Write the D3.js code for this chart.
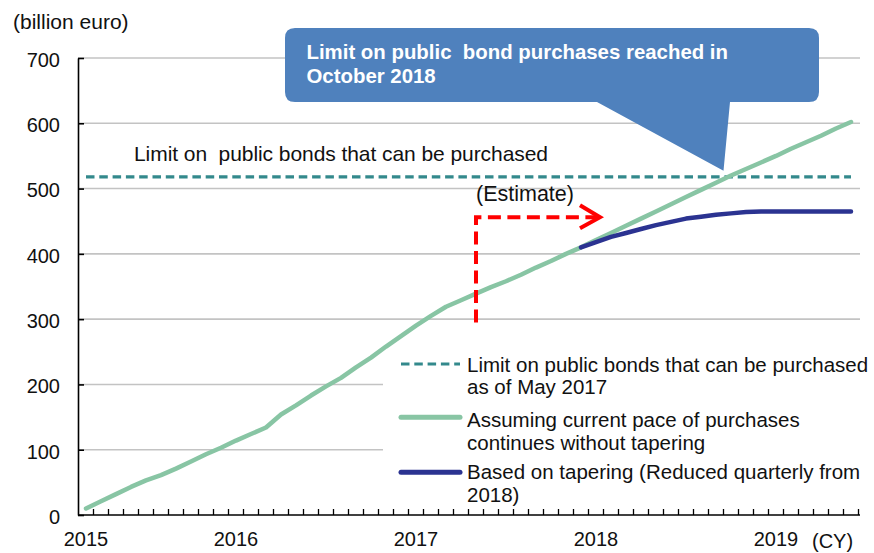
<!DOCTYPE html>
<html>
<head>
<meta charset="utf-8">
<script src="https://cdn.jsdelivr.net/npm/d3@7"></script>
<style>
  body { margin: 0; background: #fff; }
  svg text { font-family: "Liberation Sans", Arial, Helvetica, sans-serif; fill: #111; }
</style>
</head>
<body>
<svg id="chart" width="874" height="553"></svg>
<script>
// Monthly categories, March 2015 to June 2019
const months = [
  "2015-03","2015-04","2015-05","2015-06","2015-07","2015-08","2015-09","2015-10","2015-11","2015-12",
  "2016-01","2016-02","2016-03","2016-04","2016-05","2016-06","2016-07","2016-08","2016-09","2016-10","2016-11","2016-12",
  "2017-01","2017-02","2017-03","2017-04","2017-05","2017-06","2017-07","2017-08","2017-09","2017-10","2017-11","2017-12",
  "2018-01","2018-02","2018-03","2018-04","2018-05","2018-06","2018-07","2018-08","2018-09","2018-10","2018-11","2018-12",
  "2019-01","2019-02","2019-03","2019-04","2019-05","2019-06"
];

// Cumulative public bond purchases at the current pace (billion euro)
const paceValues = [
  10, 21, 32, 43, 53, 61, 71, 82, 93, 103,
  114, 124, 134, 154, 168, 183, 197, 210, 226, 241, 258, 274,
  290, 305, 319, 329, 339, 349, 358, 368, 379, 389, 400, 410,
  421, 432, 443, 454, 465, 476, 487, 498, 509, 520, 530, 540,
  550, 561, 571, 581, 592, 602
];

// Cumulative purchases with quarterly tapering from 2018 (billion euro)
const taperMonths = [
  "2017-12","2018-01","2018-02","2018-03","2018-04","2018-05","2018-06","2018-07","2018-08","2018-09",
  "2018-10","2018-11","2018-12","2019-01","2019-02","2019-03","2019-04","2019-05","2019-06"
];
const taperValues = [
  410, 418, 426, 432, 438, 444, 449, 454, 457, 460,
  462, 464, 465, 465, 465, 465, 465, 465, 465
];

// Limit on public bonds that can be purchased (as of May 2017)
const purchaseLimit = 518;

const yTicks = [0, 100, 200, 300, 400, 500, 600, 700];
const yearTickMonths = ["2015-03", "2016-01", "2017-01", "2018-01", "2019-01"];
const yearTickLabels = ["2015", "2016", "2017", "2018", "2019"];

const legendLabels = [
  ["Limit on public bonds that can be purchased", "as of May 2017"],
  ["Assuming current pace of purchases", "continues without tapering"],
  ["Based on tapering (Reduced quarterly from", "2018)"]
];

const colors = { limit: "#33898c", pace: "#88c5a4", taper: "#2b3391", callout: "#4f81bd", estimate: "#ff0000", grid: "#c3c3c3" };

const svg = d3.select("#chart");

const x = d3.scaleBand().domain(months).range([78.5, 858.5]).padding(0);
const y = d3.scaleLinear().domain([0, 700]).range([515, 58]);
const cx = m => x(m) + x.bandwidth() / 2;

// Horizontal gridlines
svg.append("g")
  .selectAll("line")
  .data(yTicks.filter(v => v > 0))
  .join("line")
  .attr("x1", 78).attr("x2", 860)
  .attr("y1", d => y(d)).attr("y2", d => y(d))
  .attr("stroke", colors.grid).attr("stroke-width", 1.6);

// White legend panel sits on the gridlines
const legendTop = 350;
svg.append("rect")
  .attr("x", 383).attr("y", legendTop).attr("width", 479).attr("height", 158)
  .attr("fill", "#fff");

// Y axis
const yAxis = svg.append("g")
  .attr("transform", "translate(78,0)")
  .call(d3.axisLeft(y).tickValues(yTicks).tickSize(-6).tickSizeOuter(0).tickPadding(18));
yAxis.select(".domain").attr("stroke", "#000").attr("stroke-width", 1.6);
yAxis.selectAll(".tick line").attr("stroke", "#000").attr("stroke-width", 1.6);
yAxis.selectAll(".tick text").attr("font-size", 20).attr("dy", "0.42em").attr("fill", "#111");

// X axis: year labels
const xAxis = svg.append("g")
  .attr("transform", "translate(0,515)")
  .call(d3.axisBottom(x)
    .tickValues(yearTickMonths)
    .tickFormat(m => yearTickLabels[yearTickMonths.indexOf(m)])
    .tickSize(0).tickPadding(17));
xAxis.select(".domain").remove();
xAxis.selectAll(".tick text").attr("font-size", 20).attr("fill", "#111");

// X axis line and monthly tick marks between categories
svg.append("line")
  .attr("x1", 78).attr("x2", 860).attr("y1", 515).attr("y2", 515)
  .attr("stroke", "#000").attr("stroke-width", 1.6);
svg.append("g")
  .selectAll("line")
  .data(months)
  .join("line")
  .attr("x1", m => x(m) + x.bandwidth()).attr("x2", m => x(m) + x.bandwidth())
  .attr("y1", 515).attr("y2", 509)
  .attr("stroke", "#000").attr("stroke-width", 1.3);

// Limit line
svg.append("line")
  .attr("x1", cx(months[0])).attr("x2", cx(months[months.length - 1]))
  .attr("y1", y(purchaseLimit)).attr("y2", y(purchaseLimit))
  .attr("stroke", colors.limit).attr("stroke-width", 3.2)
  .attr("stroke-dasharray", "8.5,4.8");

const line = d3.line().x(d => cx(d[0])).y(d => y(d[1]));

// Current pace series
svg.append("path")
  .datum(months.map((m, i) => [m, paceValues[i]]))
  .attr("d", line)
  .attr("fill", "none").attr("stroke", colors.pace)
  .attr("stroke-width", 4.5).attr("stroke-linecap", "round").attr("stroke-linejoin", "round");

// Tapering series
svg.append("path")
  .datum(taperMonths.map((m, i) => [m, taperValues[i]]))
  .attr("d", line)
  .attr("fill", "none").attr("stroke", colors.taper)
  .attr("stroke-width", 4.5).attr("stroke-linecap", "round").attr("stroke-linejoin", "round");

// Estimate marker: dashed elbow arrow from May 2017
const estX0 = cx("2017-05");
const estX1 = cx("2018-01") + 4;
const estYBottom = y(295);
const estYTop = y(456);
svg.append("path")
  .attr("d", `M${estX0},${estYBottom} V${estYTop} H${estX1 - 3}`)
  .attr("fill", "none").attr("stroke", colors.estimate)
  .attr("stroke-width", 4).attr("stroke-dasharray", "13,6.5");
svg.append("path")
  .attr("d", `M${estX1 - 20},${estYTop - 12} L${estX1},${estYTop} L${estX1 - 20},${estYTop + 11}`)
  .attr("fill", "none").attr("stroke", colors.estimate)
  .attr("stroke-width", 4).attr("stroke-linejoin", "miter");
svg.append("text")
  .attr("x", estX0).attr("y", 201)
  .attr("font-size", 21.5)
  .text("(Estimate)");

// Label for the limit line
svg.append("text")
  .attr("x", 134).attr("y", 160.5)
  .attr("font-size", 21).attr("textLength", 414).attr("lengthAdjust", "spacing")
  .style("white-space", "pre")
  .text("Limit on  public bonds that can be purchased");

// Callout pointing to where the pace series reaches the limit
const tipX = (cx("2018-09") + cx("2018-10")) / 2;
const tipY = y(purchaseLimit) - 6;
const bx0 = 285, bx1 = 819, by0 = 28, by1 = 102, r = 10;
svg.append("path")
  .attr("d", `M${bx0 + r},${by0} H${bx1 - r} Q${bx1},${by0} ${bx1},${by0 + r} V${by1 - r} Q${bx1},${by1} ${bx1 - r},${by1}
              H730 L${tipX},${tipY} L597,${by1} H${bx0 + r} Q${bx0},${by1} ${bx0},${by1 - r} V${by0 + r} Q${bx0},${by0} ${bx0 + r},${by0} Z`)
  .attr("fill", colors.callout);
const callout = svg.append("text")
  .attr("font-size", 20.4).attr("font-weight", "bold").style("fill", "#fff");
callout.append("tspan").attr("x", 306.5).attr("y", 59.3).style("white-space", "pre").text("Limit on public  bond purchases reached in");
callout.append("tspan").attr("x", 306.5).attr("y", 83.3).text("October 2018");

// Unit labels
svg.append("text").attr("x", 13).attr("y", 29).attr("font-size", 21).text("(billion euro)");
svg.append("text").attr("x", 812).attr("y", 548).attr("font-size", 20).text("(CY)");

// Legend
const legendRows = [
  { y: 364, stroke: colors.limit, width: 3.2, dash: "8.5,4.8", cap: "butt", base: 371.7 },
  { y: 417.3, stroke: colors.pace, width: 5, dash: null, cap: "round", base: 427.3 },
  { y: 472.3, stroke: colors.taper, width: 5, dash: null, cap: "round", base: 479.3 }
];
const lg = svg.append("g");
legendRows.forEach((row, i) => {
  lg.append("line")
    .attr("x1", 401).attr("x2", 460).attr("y1", row.y).attr("y2", row.y)
    .attr("stroke", row.stroke).attr("stroke-width", row.width)
    .attr("stroke-dasharray", row.dash).attr("stroke-linecap", row.cap);
  const t = lg.append("text").attr("font-size", 20.5);
  legendLabels[i].forEach((s, j) => {
    t.append("tspan").attr("x", 467).attr("y", row.base + j * 22.3).text(s);
  });
});
</script>
</body>
</html>
